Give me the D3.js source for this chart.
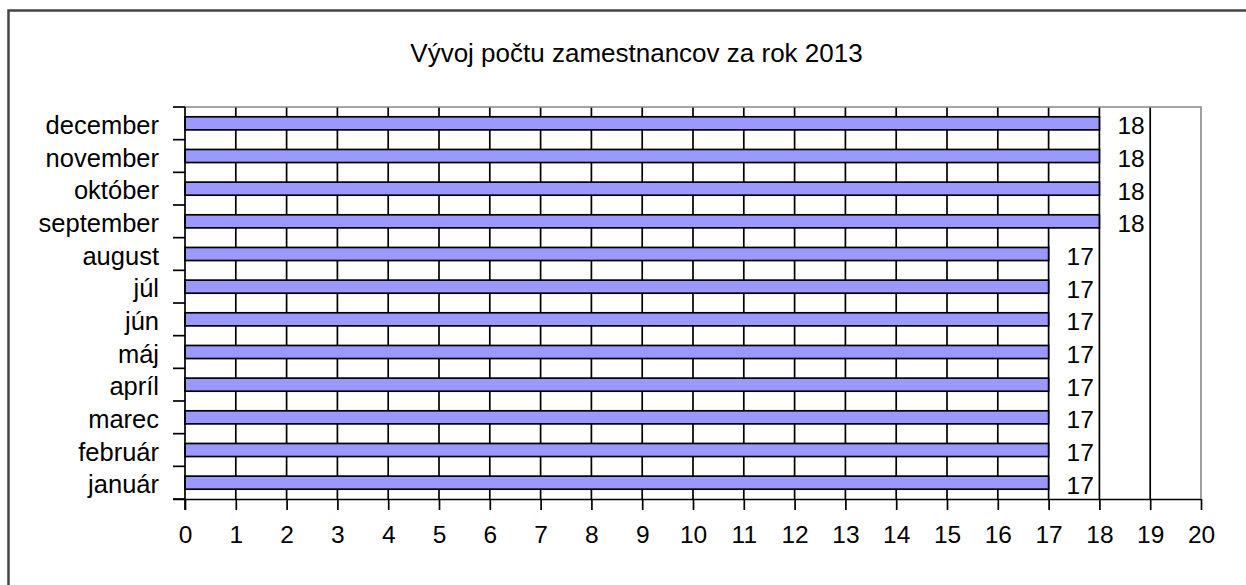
<!DOCTYPE html>
<html><head><meta charset="utf-8">
<script src="https://cdn.jsdelivr.net/npm/d3@7"></script>
<style>html,body{margin:0;padding:0;background:#fff;overflow:hidden}</style>
</head><body>
<svg id="c" width="1246" height="585"></svg>
<script>
const months = ["január","február","marec","apríl","máj","jún","júl","august","september","október","november","december"];
const employees = [17,17,17,17,17,17,17,17,18,18,18,18];
const xTicks = [0,1,2,3,4,5,6,7,8,9,10,11,12,13,14,15,16,17,18,19,20];
const title = "Vývoj počtu zamestnancov za rok 2013";

const svg = d3.select("#c");
const font = "'Liberation Sans', Arial, sans-serif";
const L = 185, R = 1201, T = 107, B = 499;

svg.append("rect").attr("x",0).attr("y",0).attr("width",1246).attr("height",585).attr("fill","#fff");
// outer chart border (left & top visible)
svg.append("rect").attr("x",8.5).attr("y",10.5).attr("width",1300).attr("height",700)
  .attr("fill","none").attr("stroke","#444").attr("stroke-width",2.5);

const x = d3.scaleLinear().domain([0,20]).range([L,R]);
const yb = d3.scaleBand().domain(months.slice().reverse()).range([T,B]);

// gridlines
svg.append("g").selectAll("line").data(xTicks.filter(d=>d>0 && d<20)).join("line")
  .attr("x1",d=>x(d)).attr("x2",d=>x(d)).attr("y1",T).attr("y2",B)
  .attr("stroke","#000").attr("stroke-width",1.7);
// plot border top/right
svg.append("path").attr("d",`M${L},${T}H${R}V${B}`).attr("fill","none").attr("stroke","#888").attr("stroke-width",1.6);

// bars
const bh = yb.bandwidth()/2.5;
svg.append("g").selectAll("rect").data(months).join("rect")
  .attr("x",x(0)).attr("y",(d)=>yb(d)+(yb.bandwidth()-bh)/2)
  .attr("width",(d,i)=>x(employees[i])-x(0)).attr("height",bh)
  .attr("fill","#9999FF").attr("stroke","#000").attr("stroke-width",1.7);

// data labels
svg.append("g").selectAll("text").data(months).join("text")
  .attr("x",(d,i)=>x(employees[i])+18).attr("y",d=>yb(d)+yb.bandwidth()/2+11)
  .attr("font-family",font).attr("font-size",24.5).attr("fill","#000")
  .text((d,i)=>employees[i]);

// axes
const gx = svg.append("g").attr("transform",`translate(0,${B})`)
  .call(d3.axisBottom(x).tickValues(xTicks).tickSize(11).tickPadding(15).tickFormat(d3.format("d")));
gx.select(".domain").attr("stroke","#000").attr("stroke-width",1.7).attr("d",`M${L-12},0.5H${R}`);
gx.selectAll(".tick line").attr("stroke","#000").attr("stroke-width",1.7);
gx.selectAll(".tick text").attr("font-family",font).attr("font-size",24.5).attr("fill","#000").attr("dy","0.72em");

// left axis: ticks at band boundaries
const bounds = months.map(m=>yb(m)).concat([B]);
const gy = svg.append("g");
gy.append("line").attr("x1",L).attr("x2",L).attr("y1",T).attr("y2",B+11).attr("stroke","#000").attr("stroke-width",1.7);
gy.selectAll("line.t").data(bounds).join("line").attr("class","t")
  .attr("x1",L-12).attr("x2",L).attr("y1",d=>d).attr("y2",d=>d).attr("stroke","#000").attr("stroke-width",1.7);
gy.selectAll("text").data(months).join("text")
  .attr("x",159).attr("y",d=>yb(d)+yb.bandwidth()/2+10.5)
  .attr("text-anchor","end").attr("font-family",font).attr("font-size",25.5).attr("fill","#000")
  .text(d=>d);

// title
svg.append("text").attr("x",636.5).attr("y",62).attr("text-anchor","middle")
  .attr("font-family",font).attr("font-size",26).attr("fill","#000").text(title);
</script>
</body></html>
